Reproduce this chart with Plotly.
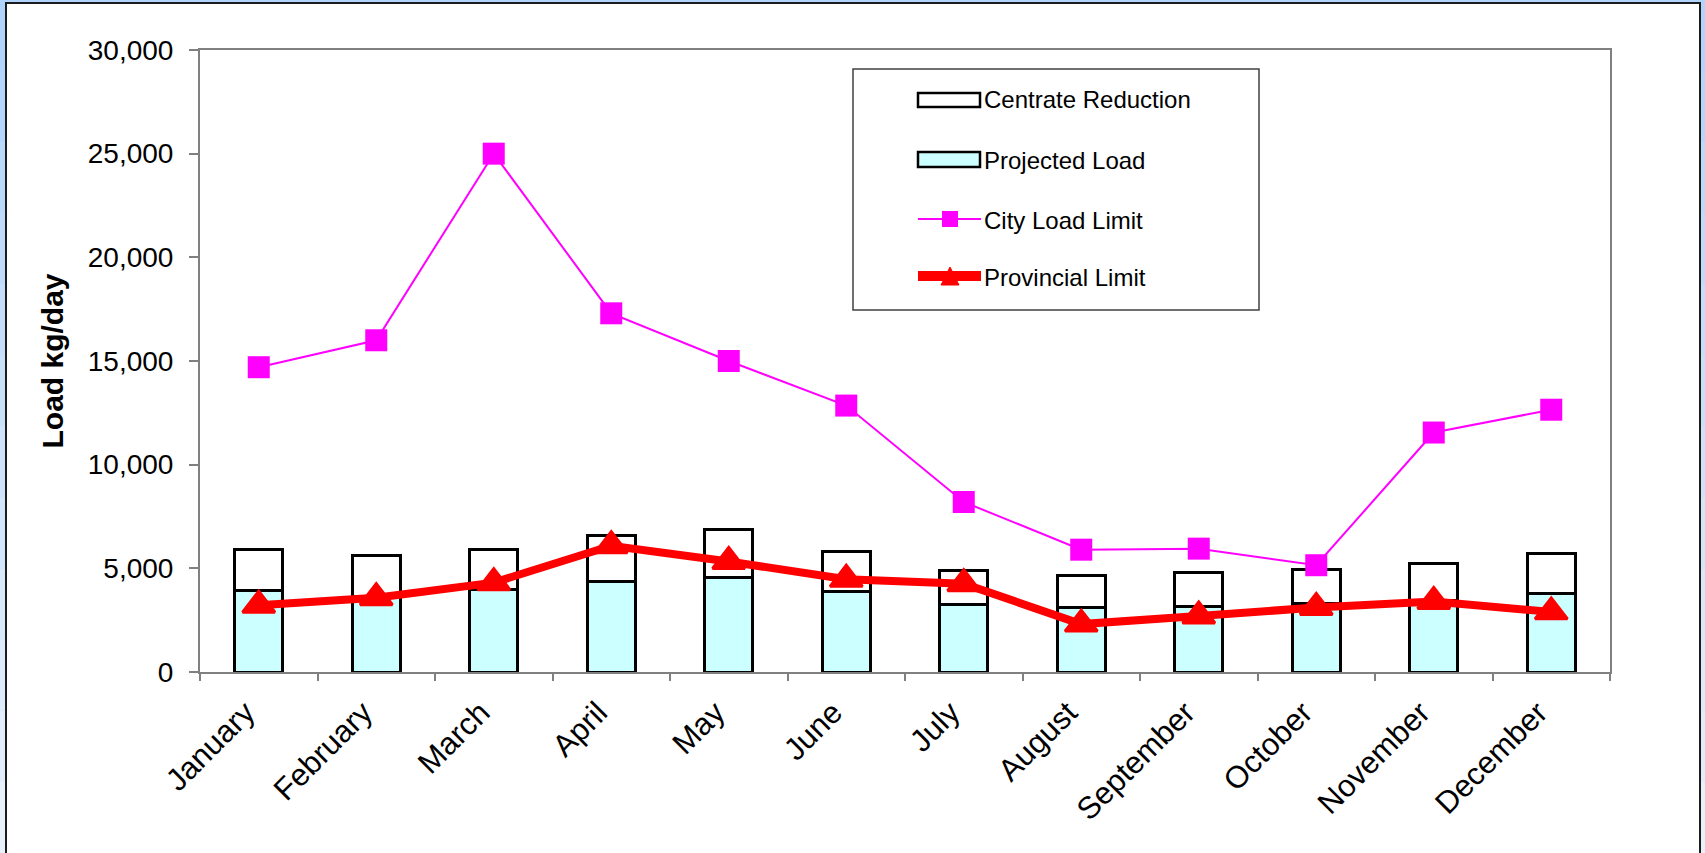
import plotly.graph_objects as go

# ---- data ----
months = ["January", "February", "March", "April", "May", "June", "July",
          "August", "September", "October", "November", "December"]
projected_load = [3940, 3650, 3990, 4370, 4570, 3890, 3250, 3100, 3180, 3310, 3450, 3800]
centrate_reduction = [1980, 1950, 1930, 2190, 2280, 1900, 1650, 1560, 1610, 1610, 1760, 1920]
city_load_limit = [14700, 16000, 25000, 17300, 15000, 12850, 8200, 5900, 5950, 5150, 11550, 12650]
provincial_limit = [3220, 3580, 4310, 6090, 5330, 4470, 4260, 2310, 2700, 3110, 3400, 2900]
y_ticks = [0, 5000, 10000, 15000, 20000, 25000, 30000]

# ---- page geometry (pixels) ----
W, H = 1705, 853
L, R, T, B = 200, 1610, 50, 672          # plot area edges
FONT = "Liberation Sans, Arial, sans-serif"


def px(x):
    return (x - L) / (R - L)


def py(y):
    return (B - y) / (B - T)


fig = go.Figure()

fig.add_trace(go.Bar(
    x=months, y=projected_load, name="Projected Load",
    marker=dict(color="#ccffff", line=dict(color="black", width=3)),
    width=0.41, showlegend=False,
))
fig.add_trace(go.Bar(
    x=months, y=centrate_reduction, name="Centrate Reduction",
    marker=dict(color="white", line=dict(color="black", width=3)),
    width=0.41, showlegend=False,
))
fig.add_trace(go.Scatter(
    x=months, y=city_load_limit, name="City Load Limit", mode="lines+markers",
    line=dict(color="#ff00ff", width=2),
    marker=dict(symbol="square", size=22, color="#ff00ff"),
    showlegend=False,
))
fig.add_trace(go.Scatter(
    x=months, y=provincial_limit, name="Provincial Limit", mode="lines+markers",
    line=dict(color="#ff0000", width=8),
    marker=dict(symbol="triangle-up", size=28, color="#ff0000",
                line=dict(color="#ff0000", width=3)),
    showlegend=False,
))

shapes = []
# page background: light blue band fading downward, white framed panel on top
n_bands = 12
for i in range(n_bands):
    t = i / (n_bands - 1)
    r = int(176 + (232 - 176) * t)
    g = int(212 + (240 - 212) * t)
    b = int(252 + (251 - 252) * t)
    shapes.append(dict(type="rect", xref="paper", yref="paper", layer="below",
                       x0=px(0), x1=px(W), y0=py(H * i / n_bands), y1=py(H * (i + 1) / n_bands),
                       fillcolor=f"rgb({r},{g},{b})", line=dict(width=0)))
shapes.append(dict(type="rect", xref="paper", yref="paper", layer="below",
                   x0=px(6), x1=px(1700), y0=py(3), y1=py(H + 10),
                   fillcolor="white", line=dict(color="#1c1c1c", width=2)))

# legend panel
shapes.append(dict(type="rect", xref="paper", yref="paper",
                   x0=px(853), x1=px(1259), y0=py(69), y1=py(310),
                   fillcolor="white", line=dict(color="#404040", width=1.5)))
shapes.append(dict(type="rect", xref="paper", yref="paper",
                   x0=px(918), x1=px(980), y0=py(93), y1=py(107),
                   fillcolor="white", line=dict(color="black", width=2.5)))
shapes.append(dict(type="rect", xref="paper", yref="paper",
                   x0=px(918), x1=px(980), y0=py(152), y1=py(167),
                   fillcolor="#ccffff", line=dict(color="black", width=2.5)))
shapes.append(dict(type="line", xref="paper", yref="paper",
                   x0=px(918), x1=px(981), y0=py(219), y1=py(219),
                   line=dict(color="#ff00ff", width=2)))
shapes.append(dict(type="rect", xref="paper", yref="paper",
                   x0=px(942), x1=px(958), y0=py(211), y1=py(227),
                   fillcolor="#ff00ff", line=dict(width=0)))
shapes.append(dict(type="line", xref="paper", yref="paper",
                   x0=px(918), x1=px(981), y0=py(276), y1=py(276),
                   line=dict(color="#ff0000", width=10)))
tri = f"M{px(941)},{py(285)} L{px(959)},{py(285)} L{px(950)},{py(267)} Z"
shapes.append(dict(type="path", xref="paper", yref="paper", path=tri,
                   fillcolor="#ff0000", line=dict(color="#ff0000", width=1)))

legend_labels = [("Centrate Reduction", 100), ("Projected Load", 160),
                 ("City Load Limit", 220), ("Provincial Limit", 277)]
annotations = [dict(text=txt, xref="paper", yref="paper", x=px(982), y=py(yy),
                    xanchor="left", yanchor="middle", showarrow=False,
                    font=dict(family=FONT, size=24, color="black"))
               for txt, yy in legend_labels]

fig.update_layout(
    width=W, height=H,
    margin=dict(l=L, r=W - R, t=T, b=H - B, autoexpand=False),
    paper_bgcolor="#c8e0f8",
    plot_bgcolor="white",
    barmode="stack",
    bargap=0.59,
    shapes=shapes,
    annotations=annotations,
    font=dict(family=FONT, color="black"),
    showlegend=False,
)
fig.update_xaxes(
    type="category", range=[-0.5, 11.5], tickson="boundaries", ticks="outside", ticklen=7,
    tickcolor="#808080", tickwidth=1.5, ticklabelshift=-13, ticklabelstandoff=8,
    showline=True, linecolor="#808080", linewidth=2, mirror=True,
    showgrid=False, tickangle=-45, tickfont=dict(family=FONT, size=31),
    automargin=False,
)
fig.update_yaxes(
    range=[0, 30000], tickvals=y_ticks, tickformat=",", ticks="outside", ticklen=9,
    tickcolor="#808080", tickwidth=1.5, ticklabelstandoff=10,
    showline=True, linecolor="#808080", linewidth=2, mirror=True,
    showgrid=False, zeroline=False, tickfont=dict(family=FONT, size=28),
    title=dict(text="<b>Load kg/day</b>", font=dict(family=FONT, size=30), standoff=15),
    automargin=False,
)

fig.write_html("out.html")
